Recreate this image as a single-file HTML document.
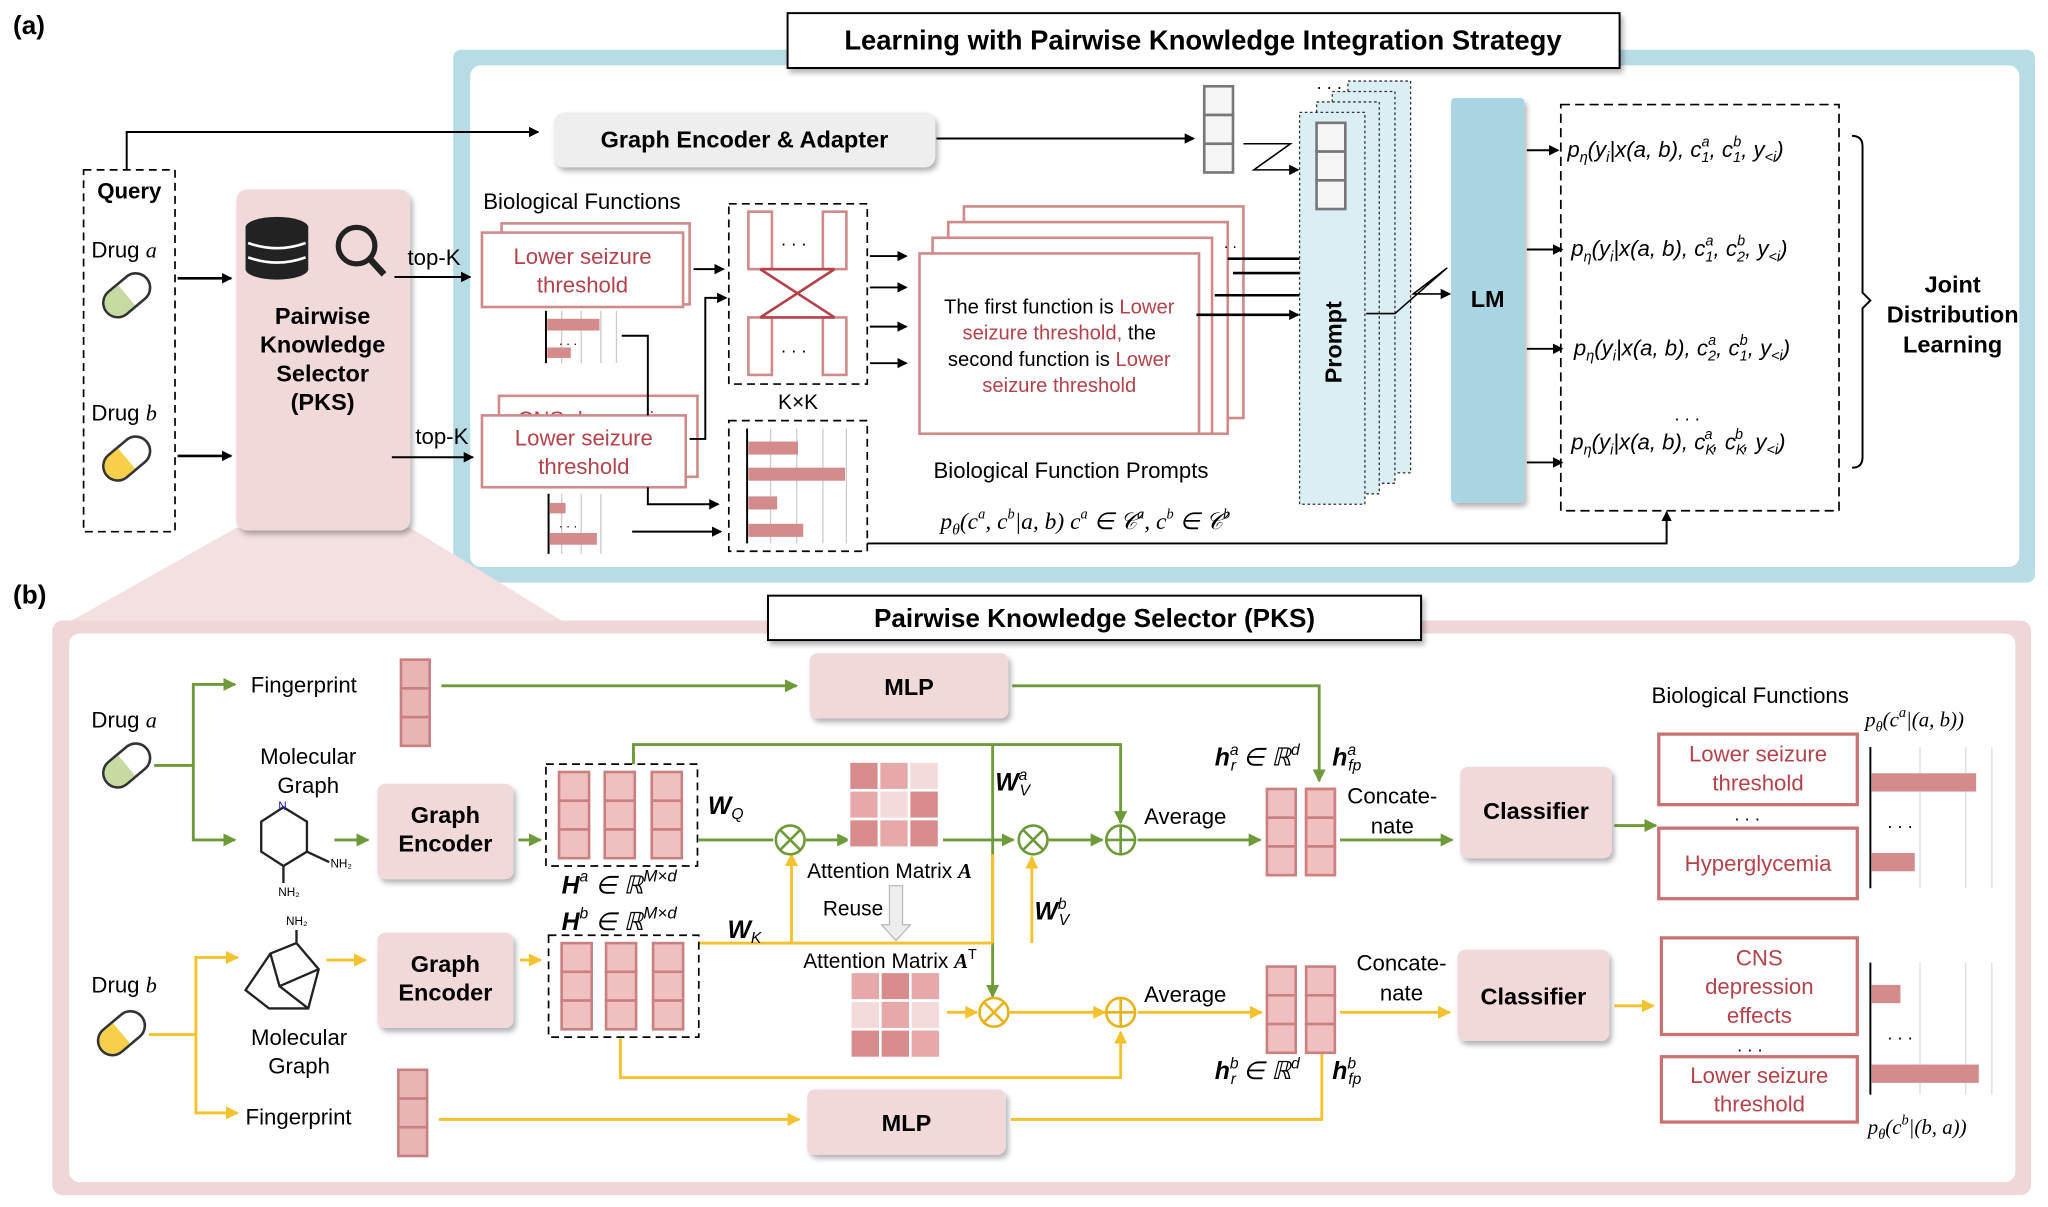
<!DOCTYPE html>
<html><head><meta charset="utf-8"><style>
html,body{margin:0;padding:0;background:#fff}
svg{display:block}
text{font-family:"Liberation Sans",sans-serif}
.m{font-family:"Liberation Serif",serif;font-style:italic}
</style></head><body>
<svg width="2048" height="1207" viewBox="0 0 1568 924" xmlns="http://www.w3.org/2000/svg">
<defs>
<marker id="ak" markerWidth="8" markerHeight="8" refX="7" refY="4" orient="auto" markerUnits="userSpaceOnUse"><path d="M0,0 L8,4 L0,8 z" fill="#000"/></marker>
<marker id="ag" markerWidth="10" markerHeight="10" refX="9" refY="5" orient="auto" markerUnits="userSpaceOnUse"><path d="M0,0 L10,5 L0,10 z" fill="#6f9a3a"/></marker>
<marker id="ay" markerWidth="10" markerHeight="10" refX="9" refY="5" orient="auto" markerUnits="userSpaceOnUse"><path d="M0,0 L10,5 L0,10 z" fill="#f5c22e"/></marker>
<filter id="sh" x="-10%" y="-10%" width="130%" height="130%"><feDropShadow dx="2" dy="3" stdDeviation="2" flood-color="#000" flood-opacity="0.3"/></filter>
</defs>
<text x="10" y="26" font-size="20" font-weight="bold">(a)</text>
<text x="10" y="462" font-size="20" font-weight="bold">(b)</text>

<!-- (a) frame -->
<rect x="347" y="38" width="1211" height="408" rx="6" fill="#b7dce6"/>
<rect x="360" y="50" width="1186" height="384" rx="8" fill="#fff"/>
<rect x="603" y="10" width="637" height="42" fill="#fff" stroke="#000" stroke-width="1.5" filter="url(#sh)"/>
<text x="921" y="38" font-size="21" font-weight="bold" text-anchor="middle">Learning with Pairwise Knowledge Integration Strategy</text>

<!-- query -->
<rect x="64" y="130" width="70" height="277" fill="none" stroke="#000" stroke-dasharray="6,4" stroke-width="1.3"/>
<text x="99" y="152" font-size="17" font-weight="bold" text-anchor="middle">Query</text>
<text x="70" y="197" font-size="17">Drug <tspan class="m">a</tspan></text>
<text x="70" y="322" font-size="17">Drug <tspan class="m">b</tspan></text>
<g transform="translate(97,226) rotate(-40)"><rect x="-20" y="-11" width="40" height="22" rx="11" fill="#fff" stroke="#333" stroke-width="2"/><path d="M0,-10 L-9,-10 A10,10 0 0 0 -9,10 L0,10 z" fill="#c5dba1"/></g>
<g transform="translate(97,351) rotate(-40)"><rect x="-20" y="-11" width="40" height="22" rx="11" fill="#fff" stroke="#333" stroke-width="2"/><path d="M0,-10 L-9,-10 A10,10 0 0 0 -9,10 L0,10 z" fill="#f7cf4a"/></g>
<path d="M97,130 V101 H412" fill="none" stroke="#000" stroke-width="1.5" marker-end="url(#ak)"/>
<path d="M136,213 H177" stroke="#000" stroke-width="2" marker-end="url(#ak)"/>
<path d="M136,349 H177" stroke="#000" stroke-width="2" marker-end="url(#ak)"/>

<!-- pink triangle -->
<polygon points="181,404 314,404 430,475 55,475" fill="#f4e0e0"/>
<!-- PKS -->
<rect x="181" y="145" width="133" height="261" rx="8" fill="#f1d9d9" filter="url(#sh)"/>
<g fill="#222"><ellipse cx="212" cy="174" rx="24" ry="8"/><rect x="188" y="174" width="48" height="32"/><ellipse cx="212" cy="206" rx="24" ry="8"/></g>
<path d="M190,186 Q212,194 234,186 M190,197 Q212,205 234,197" stroke="#fff" stroke-width="2" fill="none"/>
<circle cx="273" cy="188" r="14" fill="none" stroke="#222" stroke-width="4"/><path d="M283,198 L294,210" stroke="#222" stroke-width="5"/>
<text font-size="18" font-weight="bold" text-anchor="middle"><tspan x="247" y="248">Pairwise</tspan><tspan x="247" y="270">Knowledge</tspan><tspan x="247" y="292">Selector</tspan><tspan x="247" y="314">(PKS)</tspan></text>
<text x="312" y="203" font-size="17">top-K</text>
<path d="M302,212 H360" stroke="#000" stroke-width="1.5" marker-end="url(#ak)"/>
<text x="318" y="340" font-size="17">top-K</text>
<path d="M300,350 H362" stroke="#000" stroke-width="1.5" marker-end="url(#ak)"/>

<!-- graph encoder & adapter -->
<rect x="424" y="86" width="292" height="42" rx="8" fill="#eeeeee" filter="url(#sh)"/>
<text x="570" y="113" font-size="18" font-weight="bold" text-anchor="middle">Graph Encoder &amp; Adapter</text>
<path d="M717,106 H914" stroke="#000" stroke-width="1.5" marker-end="url(#ak)"/>
<g fill="#f5f5f5" stroke="#777" stroke-width="2"><rect x="922" y="66" width="22" height="22"/><rect x="922" y="88" width="22" height="22"/><rect x="922" y="110" width="22" height="22"/></g>
<path d="M952,110 L988,110 L960,130 L994,130" fill="none" stroke="#000" stroke-width="1.2" marker-end="url(#ak)"/>

<text x="370" y="160" font-size="17">Biological Functions</text>
<rect x="384" y="171" width="144" height="62" fill="#fff" stroke="#d08a8a" stroke-width="2"/>
<rect x="369" y="178" width="154" height="57" fill="#fff" stroke="#d08a8a" stroke-width="2"/>
<text x="446" y="202" font-size="17" fill="#b5424a" text-anchor="middle">Lower seizure</text>
<text x="446" y="224" font-size="17" fill="#b5424a" text-anchor="middle">threshold</text>
<rect x="382" y="303" width="152" height="62" fill="#fff" stroke="#d08a8a" stroke-width="2"/>
<text x="458" y="327" font-size="17" fill="#b5424a" text-anchor="middle">CNS depression</text>
<rect x="369" y="318" width="156" height="55" fill="#fff" stroke="#d08a8a" stroke-width="2"/>
<text x="447" y="341" font-size="17" fill="#b5424a" text-anchor="middle">Lower seizure</text>
<text x="447" y="363" font-size="17" fill="#b5424a" text-anchor="middle">threshold</text>
<!-- small bar charts -->
<g stroke="#ccc"><path d="M430,238 V278 M445,238 V278 M460,238 V278 M472,238 V278"/><path d="M430,378 V424 M445,378 V424 M460,378 V424"/></g>
<path d="M418,238 V278 M420,378 V424" stroke="#000" stroke-width="1.5"/>
<rect x="419" y="244" width="40" height="9" fill="#d48b8b"/><rect x="419" y="266" width="18" height="8" fill="#d48b8b"/>
<rect x="421" y="385" width="12" height="8" fill="#d48b8b"/><rect x="421" y="408" width="36" height="9" fill="#d48b8b"/>
<text x="428" y="264" font-size="10">. . .</text><text x="428" y="404" font-size="10">. . .</text>
<path d="M476,257 H496 V318" fill="none" stroke="#000" stroke-width="1.5"/>
<path d="M531,206 H554" stroke="#000" stroke-width="1.5" marker-end="url(#ak)"/>
<path d="M528,336 H540 V228 H556" fill="none" stroke="#000" stroke-width="1.5" marker-end="url(#ak)"/>
<path d="M496,373 V386 H550" fill="none" stroke="#000" stroke-width="1.5" marker-end="url(#ak)"/>
<path d="M484,407 H552" stroke="#000" stroke-width="1.5" marker-end="url(#ak)"/>

<!-- KxK -->
<rect x="558" y="156" width="106" height="138" fill="none" stroke="#000" stroke-dasharray="6,4" stroke-width="1.3"/>
<g fill="#fff" stroke="#d08a8a" stroke-width="2"><rect x="573" y="162" width="18" height="44"/><rect x="630" y="162" width="18" height="44"/><rect x="573" y="243" width="18" height="44"/><rect x="630" y="243" width="18" height="44"/></g>
<path d="M582,206 L639,243 M639,206 L582,243 M582,206 H639 M582,243 H639" stroke="#b5424a" stroke-width="2" fill="none"/>
<text x="598" y="188" font-size="14">. . .</text><text x="598" y="270" font-size="14">. . .</text>
<text x="611" y="313" font-size="16" text-anchor="middle">K×K</text>
<rect x="558" y="322" width="106" height="100" fill="none" stroke="#000" stroke-dasharray="6,4" stroke-width="1.3"/>
<g stroke="#ccc"><path d="M590,328 V416 M610,328 V416 M630,328 V416 M648,328 V416"/></g>
<path d="M572,328 V416" stroke="#000" stroke-width="1.5"/>
<g fill="#d48b8b"><rect x="573" y="338" width="38" height="10"/><rect x="573" y="358" width="74" height="10"/><rect x="573" y="380" width="22" height="10"/><rect x="573" y="401" width="42" height="10"/></g>
<g stroke="#000" stroke-width="1.5"><path d="M666,196 H694" marker-end="url(#ak)"/><path d="M666,220 H694" marker-end="url(#ak)"/><path d="M666,250 H694" marker-end="url(#ak)"/><path d="M666,278 H694" marker-end="url(#ak)"/></g>

<!-- function prompt stack -->
<g fill="#fff" stroke="#d08a8a" stroke-width="2"><rect x="738" y="158" width="214" height="162"/><rect x="726" y="170" width="214" height="162"/><rect x="714" y="182" width="214" height="150"/><rect x="704" y="194" width="214" height="138"/></g>
<text x="937" y="190" font-size="12">. .</text>
<text font-size="15.5" text-anchor="middle"><tspan x="811" y="240">The first function is <tspan fill="#b5424a">Lower</tspan></tspan><tspan x="811" y="260" fill="#b5424a">seizure threshold,<tspan fill="#000"> the</tspan></tspan><tspan x="811" y="280">second function is <tspan fill="#b5424a">Lower</tspan></tspan><tspan x="811" y="300" fill="#b5424a">seizure threshold</tspan></text>
<text x="820" y="366" font-size="17" text-anchor="middle">Biological Function Prompts</text>
<text x="720" y="405" font-size="18" class="m">p<tspan font-size="12" dy="4">θ</tspan><tspan dy="-4">(c</tspan><tspan font-size="11" dy="-8">a</tspan><tspan dy="8">, c</tspan><tspan font-size="11" dy="-8">b</tspan><tspan dy="8">|a, b)    c</tspan><tspan font-size="11" dy="-8">a</tspan><tspan dy="8"> ∈ 𝒞</tspan><tspan font-size="11" dy="-8">a</tspan><tspan dy="8">, c</tspan><tspan font-size="11" dy="-8">b</tspan><tspan dy="8"> ∈ 𝒞</tspan><tspan font-size="11" dy="-8">b</tspan></text>
<path d="M664,416 H1276 V392" fill="none" stroke="#000" stroke-width="1.5" marker-end="url(#ak)"/>
<g stroke="#000" stroke-width="2"><path d="M940,198 H996"/><path d="M944,209 H996"/><path d="M930,226 H996"/><path d="M916,241 H994" marker-end="url(#ak)"/></g>

<!-- Prompt stack -->
<g fill="#dbeef3" stroke="#333" stroke-width="1" stroke-dasharray="2,2"><rect x="1032" y="62" width="48" height="300"/><rect x="1020" y="70" width="48" height="300"/><rect x="1008" y="78" width="48" height="300"/><rect x="995" y="86" width="50" height="300"/></g>
<text x="1008" y="68" font-size="14">. . .</text>
<g fill="#f5f5f5" stroke="#777" stroke-width="2"><rect x="1008" y="94" width="22" height="22"/><rect x="1008" y="116" width="22" height="22"/><rect x="1008" y="138" width="22" height="22"/></g>
<text transform="translate(1027,262) rotate(-90)" font-size="18" font-weight="bold" text-anchor="middle">Prompt</text>
<path d="M1046,240 H1068 L1108,205 L1082,225 H1110" fill="none" stroke="#000" stroke-width="1.2" marker-end="url(#ak)"/>
<rect x="1111" y="75" width="56" height="310" rx="3" fill="#a9d5e2" filter="url(#sh)"/>
<text x="1139" y="235" font-size="18" font-weight="bold" text-anchor="middle">LM</text>
<g stroke="#000" stroke-width="1.5"><path d="M1169,115 H1193" marker-end="url(#ak)"/><path d="M1169,191 H1196" marker-end="url(#ak)"/><path d="M1169,267 H1196" marker-end="url(#ak)"/><path d="M1169,354 H1196" marker-end="url(#ak)"/></g>
<rect x="1195" y="80" width="213" height="311" fill="none" stroke="#000" stroke-dasharray="7,4" stroke-width="1.3"/>
<g class="m" font-size="17">
<text x="1200" y="120">p<tspan font-size="11" dy="4">η</tspan><tspan dy="-4">(y</tspan><tspan font-size="11" dy="4">i</tspan><tspan dy="-4">|x(a, b), c</tspan><tspan font-size="11" dy="4">1</tspan><tspan font-size="11" dx="-6" dy="-12">a</tspan><tspan dy="8">, c</tspan><tspan font-size="11" dy="4">1</tspan><tspan font-size="11" dx="-6" dy="-12">b</tspan><tspan dy="8">, y</tspan><tspan font-size="11" dy="4">&lt;i</tspan><tspan dy="-4">)</tspan></text>
<text x="1203" y="196">p<tspan font-size="11" dy="4">η</tspan><tspan dy="-4">(y</tspan><tspan font-size="11" dy="4">i</tspan><tspan dy="-4">|x(a, b), c</tspan><tspan font-size="11" dy="4">1</tspan><tspan font-size="11" dx="-6" dy="-12">a</tspan><tspan dy="8">, c</tspan><tspan font-size="11" dy="4">2</tspan><tspan font-size="11" dx="-6" dy="-12">b</tspan><tspan dy="8">, y</tspan><tspan font-size="11" dy="4">&lt;i</tspan><tspan dy="-4">)</tspan></text>
<text x="1205" y="272">p<tspan font-size="11" dy="4">η</tspan><tspan dy="-4">(y</tspan><tspan font-size="11" dy="4">i</tspan><tspan dy="-4">|x(a, b), c</tspan><tspan font-size="11" dy="4">2</tspan><tspan font-size="11" dx="-6" dy="-12">a</tspan><tspan dy="8">, c</tspan><tspan font-size="11" dy="4">1</tspan><tspan font-size="11" dx="-6" dy="-12">b</tspan><tspan dy="8">, y</tspan><tspan font-size="11" dy="4">&lt;i</tspan><tspan dy="-4">)</tspan></text>
<text x="1203" y="344">p<tspan font-size="11" dy="4">η</tspan><tspan dy="-4">(y</tspan><tspan font-size="11" dy="4">i</tspan><tspan dy="-4">|x(a, b), c</tspan><tspan font-size="11" dy="4">K</tspan><tspan font-size="11" dx="-8" dy="-12">a</tspan><tspan dy="8">, c</tspan><tspan font-size="11" dy="4">K</tspan><tspan font-size="11" dx="-8" dy="-12">b</tspan><tspan dy="8">, y</tspan><tspan font-size="11" dy="4">&lt;i</tspan><tspan dy="-4">)</tspan></text>
</g>
<text x="1282" y="322" font-size="14">. . .</text>
<path d="M1418,104 Q1426,104 1426,112 V224 L1432,230 L1426,236 V350 Q1426,358 1418,358" fill="none" stroke="#000" stroke-width="1.5"/>
<text font-size="18" font-weight="bold" text-anchor="middle"><tspan x="1495" y="224">Joint</tspan><tspan x="1495" y="247">Distribution</tspan><tspan x="1495" y="270">Learning</tspan></text>

<!-- (b) frame -->
<rect x="40" y="475" width="1515" height="440" rx="8" fill="#f0d6d6"/>
<rect x="53" y="485" width="1490" height="420" rx="8" fill="#fff"/>
<rect x="588" y="456" width="500" height="34" fill="#fff" stroke="#000" stroke-width="1.5" filter="url(#sh)"/>
<text x="838" y="480" font-size="20" font-weight="bold" text-anchor="middle">Pairwise Knowledge Selector (PKS)</text>

<text x="70" y="557" font-size="17">Drug <tspan class="m">a</tspan></text>
<text x="70" y="760" font-size="17">Drug <tspan class="m">b</tspan></text>
<g transform="translate(97,586) rotate(-40)"><rect x="-20" y="-11" width="40" height="22" rx="11" fill="#fff" stroke="#333" stroke-width="2"/><path d="M0,-10 L-9,-10 A10,10 0 0 0 -9,10 L0,10 z" fill="#c5dba1"/></g>
<g transform="translate(93,791) rotate(-40)"><rect x="-20" y="-11" width="40" height="22" rx="11" fill="#fff" stroke="#333" stroke-width="2"/><path d="M0,-10 L-9,-10 A10,10 0 0 0 -9,10 L0,10 z" fill="#f7cf4a"/></g>

<!-- green lines -->
<g stroke="#6f9a3a" stroke-width="2.2" fill="none">
<path d="M118,586 H148 V524 H180" marker-end="url(#ag)"/>
<path d="M148,586 V643 H180" marker-end="url(#ag)"/>
<path d="M256,643 H282" marker-end="url(#ag)"/>
<path d="M397,643 H414" marker-end="url(#ag)"/>
<path d="M338,525 H610" marker-end="url(#ag)"/>
<path d="M775,525 H1010 V598" marker-end="url(#ag)"/>
<path d="M485,585 V570 H858 V630" marker-end="url(#ag)"/>
<path d="M535,643 H592"/>
<path d="M617,643 H650" marker-end="url(#ag)"/>
<path d="M722,643 H776" marker-end="url(#ag)"/>
<path d="M803,643 H844" marker-end="url(#ag)"/>
<path d="M760,570 V763" marker-end="url(#ag)"/>
<path d="M871,643 H965" marker-end="url(#ag)"/>
<path d="M1026,643 H1112" marker-end="url(#ag)"/>
<path d="M1236,632 H1268" marker-end="url(#ag)"/>
</g>
<!-- yellow lines -->
<g stroke="#f5c22e" stroke-width="2.2" fill="none">
<path d="M114,792 H150 V733 H182" marker-end="url(#ay)"/>
<path d="M150,792 V852 H182" marker-end="url(#ay)"/>
<path d="M250,735 H280" marker-end="url(#ay)"/>
<path d="M398,735 H414" marker-end="url(#ay)"/>
<path d="M336,857 H612" marker-end="url(#ay)"/>
<path d="M774,857 H1012 V780" marker-end="url(#ay)"/>
<path d="M535,722 H760"/>
<path d="M606,722 V654" marker-end="url(#ay)"/>
<path d="M760,722 V654"/>
<path d="M790,722 V656" marker-end="url(#ay)"/>
<path d="M725,775 H748" marker-end="url(#ay)"/>
<path d="M773,775 H846" marker-end="url(#ay)"/>
<path d="M475,795 V825 H858 V790" marker-end="url(#ay)"/>
<path d="M871,775 H966" marker-end="url(#ay)"/>
<path d="M1026,775 H1110" marker-end="url(#ay)"/>
<path d="M1236,770 H1266" marker-end="url(#ay)"/>
</g>
<!-- operators -->
<g fill="#fff" stroke="#6f9a3a" stroke-width="2"><circle cx="605" cy="643" r="11"/><circle cx="791" cy="643" r="11"/><circle cx="858" cy="643" r="11"/></g>
<path d="M597,635 L613,651 M613,635 L597,651 M783,635 L799,651 M799,635 L783,651 M847,643 H869 M858,632 V654" stroke="#6f9a3a" stroke-width="2"/>
<g fill="#fff" stroke="#e8b21c" stroke-width="2"><circle cx="761" cy="775" r="11"/><circle cx="858" cy="775" r="11"/></g>
<path d="M753,767 L769,783 M769,767 L753,783 M847,775 H869 M858,764 V786" stroke="#e8b21c" stroke-width="2"/>

<text x="192" y="530" font-size="17">Fingerprint</text>
<text x="188" y="861" font-size="17">Fingerprint</text>
<g fill="#e8b4b4" stroke="#c98080" stroke-width="2"><rect x="307" y="505" width="22" height="22"/><rect x="307" y="527" width="22" height="22"/><rect x="307" y="549" width="22" height="22"/><rect x="305" y="819" width="22" height="22"/><rect x="305" y="841" width="22" height="22"/><rect x="305" y="863" width="22" height="22"/></g>
<text x="236" y="585" font-size="17" text-anchor="middle">Molecular</text><text x="236" y="607" font-size="17" text-anchor="middle">Graph</text>
<text x="229" y="800" font-size="17" text-anchor="middle">Molecular</text><text x="229" y="822" font-size="17" text-anchor="middle">Graph</text>
<!-- molecules -->
<path d="M217,618 L235,629 V652 L217,663 L200,652 V629 Z M235,652 L252,660 M217,663 V676" fill="none" stroke="#222" stroke-width="1.8"/>
<text x="213" y="620" font-size="9" fill="#22a">N</text><text x="253" y="664" font-size="9">NH₂</text><text x="213" y="686" font-size="9">NH₂</text>
<path d="M227,722 L244,742 L236,772 L206,772 L188,758 L207,730 Z M227,722 L227,712 M207,730 L214,755 L236,772 M214,755 L244,742" fill="none" stroke="#222" stroke-width="1.8"/>
<text x="219" y="708" font-size="9">NH₂</text>

<g filter="url(#sh)"><rect x="289" y="600" width="104" height="73" rx="6" fill="#f1d9d9"/><rect x="289" y="714" width="104" height="73" rx="6" fill="#f1d9d9"/>
<rect x="620" y="500" width="152" height="50" rx="6" fill="#f1d9d9"/><rect x="618" y="834" width="152" height="50" rx="6" fill="#f1d9d9"/>
<rect x="1118" y="587" width="116" height="70" rx="6" fill="#f1d9d9"/><rect x="1116" y="727" width="116" height="70" rx="6" fill="#f1d9d9"/></g>
<g font-size="18" font-weight="bold" text-anchor="middle"><text x="341" y="630">Graph</text><text x="341" y="652">Encoder</text><text x="341" y="744">Graph</text><text x="341" y="766">Encoder</text>
<text x="696" y="532">MLP</text><text x="694" y="866">MLP</text><text x="1176" y="627">Classifier</text><text x="1174" y="769">Classifier</text></g>

<!-- H matrices -->
<rect x="418" y="585" width="116" height="78" fill="none" stroke="#000" stroke-dasharray="6,4" stroke-width="1.3"/>
<rect x="420" y="716" width="115" height="78" fill="none" stroke="#000" stroke-dasharray="6,4" stroke-width="1.3"/>
<g fill="#f0c0c0" stroke="#c98080" stroke-width="2">
<rect x="428" y="591" width="23" height="22"/><rect x="428" y="613" width="23" height="22"/><rect x="428" y="635" width="23" height="22"/>
<rect x="463" y="591" width="23" height="22"/><rect x="463" y="613" width="23" height="22"/><rect x="463" y="635" width="23" height="22"/>
<rect x="499" y="591" width="23" height="22"/><rect x="499" y="613" width="23" height="22"/><rect x="499" y="635" width="23" height="22"/>
<rect x="430" y="722" width="23" height="22"/><rect x="430" y="744" width="23" height="22"/><rect x="430" y="766" width="23" height="22"/>
<rect x="464" y="722" width="23" height="22"/><rect x="464" y="744" width="23" height="22"/><rect x="464" y="766" width="23" height="22"/>
<rect x="500" y="722" width="23" height="22"/><rect x="500" y="744" width="23" height="22"/><rect x="500" y="766" width="23" height="22"/>
</g>
<g class="m" font-size="19">
<text x="430" y="684"><tspan font-weight="bold">H</tspan><tspan font-size="12" dy="-9">a</tspan><tspan dy="9"> ∈ ℝ</tspan><tspan font-size="13" dy="-9">M×d</tspan></text>
<text x="430" y="712"><tspan font-weight="bold">H</tspan><tspan font-size="12" dy="-9">b</tspan><tspan dy="9"> ∈ ℝ</tspan><tspan font-size="13" dy="-9">M×d</tspan></text>
<text x="542" y="623"><tspan font-weight="bold">W</tspan><tspan font-size="12" dy="4">Q</tspan></text>
<text x="557" y="718"><tspan font-weight="bold">W</tspan><tspan font-size="12" dy="4">K</tspan></text>
<text x="762" y="605"><tspan font-weight="bold">W</tspan><tspan font-size="12" dy="-8">a</tspan><tspan font-size="12" dx="-6" dy="12">V</tspan></text>
<text x="792" y="704"><tspan font-weight="bold">W</tspan><tspan font-size="12" dy="-8">b</tspan><tspan font-size="12" dx="-6" dy="12">V</tspan></text>
<text x="930" y="586"><tspan font-weight="bold">h</tspan><tspan font-size="12" dy="-8">a</tspan><tspan font-size="12" dx="-6" dy="12">r</tspan><tspan dy="-4"> ∈ ℝ</tspan><tspan font-size="12" dy="-8">d</tspan></text>
<text x="1020" y="586"><tspan font-weight="bold">h</tspan><tspan font-size="12" dy="-8">a</tspan><tspan font-size="12" dx="-6" dy="12">fp</tspan></text>
<text x="930" y="826"><tspan font-weight="bold">h</tspan><tspan font-size="12" dy="-8">b</tspan><tspan font-size="12" dx="-6" dy="12">r</tspan><tspan dy="-4"> ∈ ℝ</tspan><tspan font-size="12" dy="-8">d</tspan></text>
<text x="1020" y="826"><tspan font-weight="bold">h</tspan><tspan font-size="12" dy="-8">b</tspan><tspan font-size="12" dx="-6" dy="12">fp</tspan></text>
</g>
<!-- attention matrices -->
<g stroke="#fff" stroke-width="2">
<rect x="650" y="583" width="23" height="22" fill="#d98c8c"/><rect x="673" y="583" width="23" height="22" fill="#e6a8a8"/><rect x="696" y="583" width="23" height="22" fill="#f4dada"/>
<rect x="650" y="605" width="23" height="22" fill="#e6a8a8"/><rect x="673" y="605" width="23" height="22" fill="#f4dada"/><rect x="696" y="605" width="23" height="22" fill="#d98c8c"/>
<rect x="650" y="627" width="23" height="22" fill="#d98c8c"/><rect x="673" y="627" width="23" height="22" fill="#e6a8a8"/><rect x="696" y="627" width="23" height="22" fill="#d98c8c"/>
<rect x="651" y="744" width="23" height="22" fill="#e6a8a8"/><rect x="674" y="744" width="23" height="22" fill="#d98c8c"/><rect x="697" y="744" width="23" height="22" fill="#e6a8a8"/>
<rect x="651" y="766" width="23" height="22" fill="#f4dada"/><rect x="674" y="766" width="23" height="22" fill="#e6a8a8"/><rect x="697" y="766" width="23" height="22" fill="#f4dada"/>
<rect x="651" y="788" width="23" height="22" fill="#d98c8c"/><rect x="674" y="788" width="23" height="22" fill="#d98c8c"/><rect x="697" y="788" width="23" height="22" fill="#e6a8a8"/>
</g>
<text x="618" y="672" font-size="16">Attention Matrix <tspan class="m" font-weight="bold">A</tspan></text>
<text x="615" y="741" font-size="16">Attention Matrix <tspan class="m" font-weight="bold">A</tspan><tspan font-size="11" dy="-7">T</tspan></text>
<text x="630" y="701" font-size="16">Reuse</text>
<path d="M681,678 H691 V708 H697 L686,720 L675,708 H681 Z" fill="#eee" stroke="#bbb"/>
<text x="876" y="631" font-size="17">Average</text>
<text x="876" y="767" font-size="17">Average</text>
<!-- h vectors -->
<g fill="#f0c0c0" stroke="#c98080" stroke-width="2">
<rect x="970" y="604" width="22" height="22"/><rect x="970" y="626" width="22" height="22"/><rect x="970" y="648" width="22" height="22"/>
<rect x="1000" y="604" width="22" height="22"/><rect x="1000" y="626" width="22" height="22"/><rect x="1000" y="648" width="22" height="22"/>
<rect x="970" y="740" width="22" height="22"/><rect x="970" y="762" width="22" height="22"/><rect x="970" y="784" width="22" height="22"/>
<rect x="1000" y="740" width="22" height="22"/><rect x="1000" y="762" width="22" height="22"/><rect x="1000" y="784" width="22" height="22"/>
</g>
<rect x="1000" y="604" width="22" height="66" fill="none" stroke="#d08080" stroke-width="2"/>
<text x="1066" y="615" font-size="17" text-anchor="middle">Concate-</text><text x="1066" y="638" font-size="17" text-anchor="middle">nate</text>
<text x="1073" y="743" font-size="17" text-anchor="middle">Concate-</text><text x="1073" y="766" font-size="17" text-anchor="middle">nate</text>

<!-- right side bio functions -->
<text x="1340" y="538" font-size="17" text-anchor="middle">Biological Functions</text>
<text x="1428" y="556" font-size="16" class="m">p<tspan font-size="11" dy="4">θ</tspan><tspan dy="-4">(c</tspan><tspan font-size="11" dy="-7">a</tspan><tspan dy="7">|(a, b))</tspan></text>
<text x="1430" y="868" font-size="16" class="m">p<tspan font-size="11" dy="4">θ</tspan><tspan dy="-4">(c</tspan><tspan font-size="11" dy="-7">b</tspan><tspan dy="7">|(b, a))</tspan></text>
<g fill="#fff" stroke="#c97272" stroke-width="2.5"><rect x="1270" y="562" width="152" height="54"/><rect x="1270" y="634" width="152" height="54"/><rect x="1272" y="718" width="150" height="74"/><rect x="1272" y="809" width="150" height="50"/></g>
<g font-size="17" fill="#b5424a" text-anchor="middle"><text x="1346" y="583">Lower seizure</text><text x="1346" y="605">threshold</text><text x="1346" y="667">Hyperglycemia</text>
<text x="1347" y="739">CNS</text><text x="1347" y="761">depression</text><text x="1347" y="783">effects</text><text x="1347" y="829">Lower seizure</text><text x="1347" y="851">threshold</text></g>
<text x="1328" y="628" font-size="14">. . .</text><text x="1330" y="805" font-size="14">. . .</text>
<g stroke="#ddd"><path d="M1470,572 V680 M1505,572 V680 M1525,572 V680 M1470,737 V838 M1505,737 V838 M1525,737 V838"/></g>
<path d="M1432,572 V680 M1432,737 V838" stroke="#000" stroke-width="1.5"/>
<g fill="#d48b8b"><rect x="1433" y="592" width="80" height="14"/><rect x="1433" y="653" width="33" height="14"/><rect x="1433" y="754" width="22" height="14"/><rect x="1433" y="815" width="82" height="14"/></g>
<text x="1445" y="634" font-size="14">. . .</text><text x="1445" y="796" font-size="14">. . .</text>
</svg>
</body></html>
